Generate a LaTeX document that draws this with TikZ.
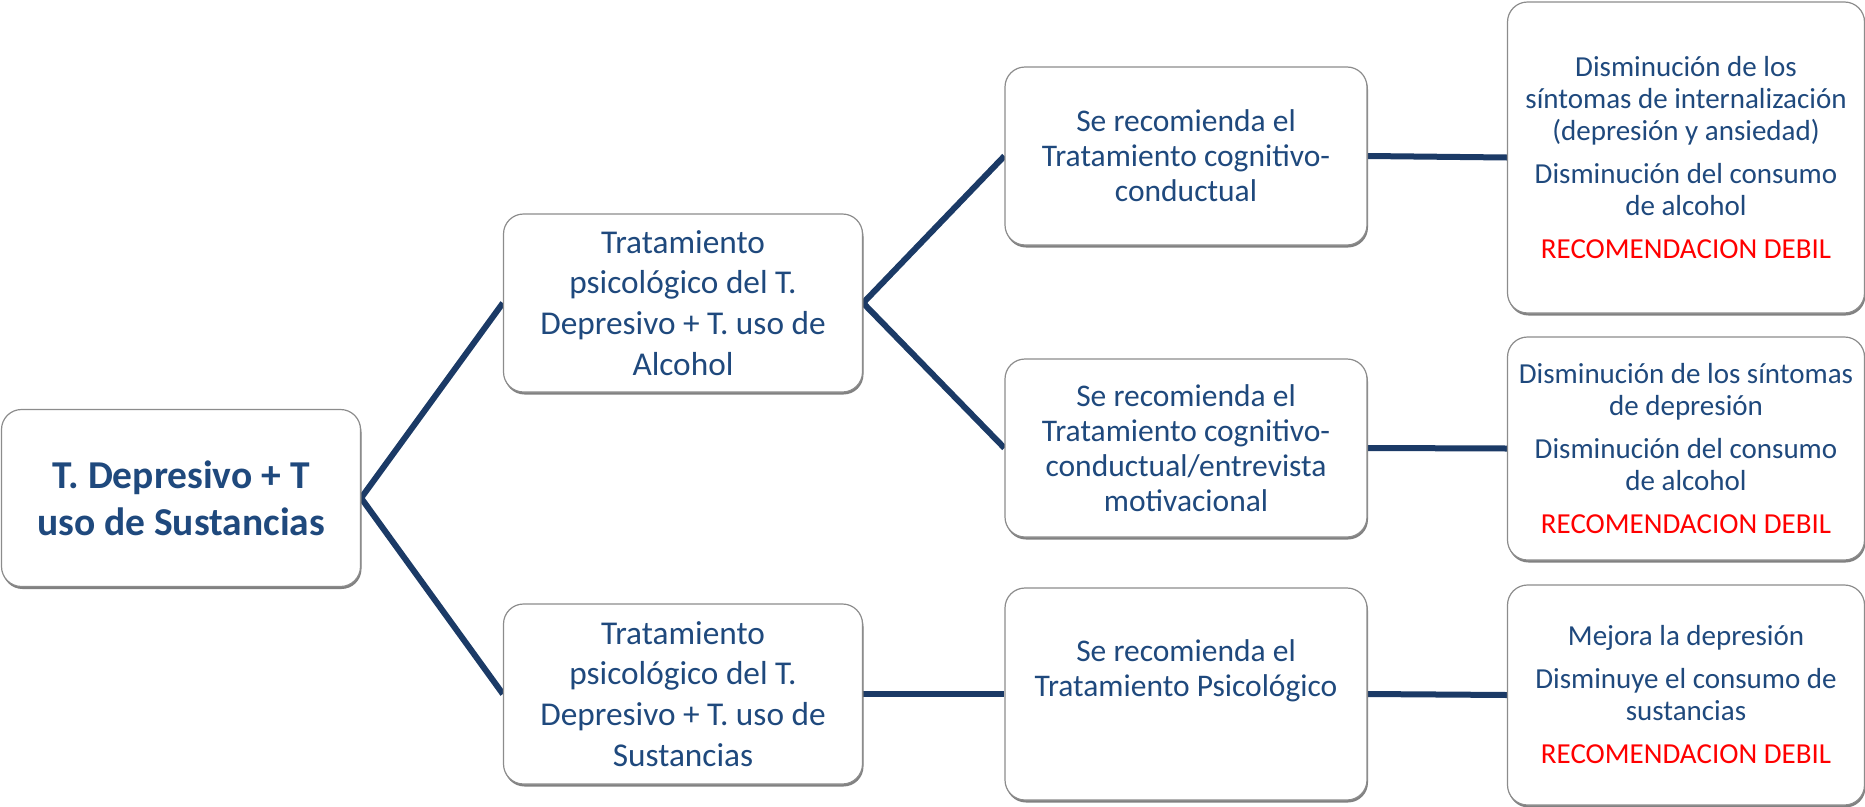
\documentclass[tikz,border=0pt]{standalone}
\usepackage{fontspec}
\setmainfont{Carlito}
\usetikzlibrary{shadows,backgrounds}
\definecolor{txtblue}{HTML}{1F497D}
\definecolor{lnblue}{HTML}{1B3A66}
\definecolor{bordergray}{HTML}{8C8C8C}
\definecolor{recred}{HTML}{FF0000}
\begin{document}
\begin{tikzpicture}[x=1pt,y=-1pt,
  box/.style={draw=bordergray, line width=1.2pt, rounded corners=20pt, fill=white,
    align=center, text=txtblue, inner sep=0pt,
    drop shadow={shadow xshift=1pt, shadow yshift=-2.5pt, fill=black!55, opacity=0.9}},
  txt/.style={align=center, text=txtblue, inner sep=0pt},
  fa/.style={font=\bfseries\fontsize{39.5}{47}\selectfont},
  fb/.style={font=\fontsize{33.3}{40.7}\selectfont},
  fc/.style={font=\fontsize{31.5}{35}\selectfont},
  fd/.style={font=\fontsize{29}{32}\selectfont},
  conn/.style={draw=lnblue, line width=6pt}]
\useasboundingbox (0,0) rectangle (1865,806);

\node[box, fa, minimum width=359pt, minimum height=177pt] (root) at (181,498)
  {T. Depresivo + T\\uso de Sustancias};

\node[box, fb, minimum width=359pt, minimum height=178pt] (l1a) at (683,303)
  {Tratamiento\\psicológico del T.\\Depresivo + T. uso de\\Alcohol};
\node[box, fb, minimum width=359pt, minimum height=180pt] (l1b) at (683,694)
  {Tratamiento\\psicológico del T.\\Depresivo + T. uso de\\Sustancias};

\node[box, fc, minimum width=362pt, minimum height=178pt] (l2a) at (1186,156)
  {Se recomienda el\\Tratamiento cognitivo-\\conductual};
\node[box, fc, minimum width=362pt, minimum height=178pt] (l2b) at (1186,448)
  {Se recomienda el\\Tratamiento cognitivo-\\conductual/entrevista\\motivacional};
\node[box, minimum width=362pt, minimum height=212pt] (l2c) at (1186,694) {};
\node[txt, fc] (l2ct) at (1186,671) {Se recomienda el\\Tratamiento Psicológico};

\node[box, fd, minimum width=357pt, minimum height=311pt] (l3a) at (1686,157.5)
  {Disminución de los\\síntomas de internalización\\(depresión y ansiedad)\\[11pt]Disminución del consumo\\de alcohol\\[11pt]\textcolor{recred}{RECOMENDACION DEBIL}};
\node[box, fd, minimum width=357pt, minimum height=223pt] (l3b) at (1686,448.5)
  {Disminución de los síntomas\\de depresión\\[11pt]Disminución del consumo\\de alcohol\\[11pt]\textcolor{recred}{RECOMENDACION DEBIL}};
\node[box, fd, minimum width=357pt, minimum height=220pt] (l3c) at (1686,695)
  {Mejora la depresión\\[11pt]Disminuye el consumo de\\sustancias\\[11pt]\textcolor{recred}{RECOMENDACION DEBIL}};

\begin{scope}[on background layer]
  \draw[conn] (root.east) -- (l1a.west);
  \draw[conn] (root.east) -- (l1b.west);
  \draw[conn] (l1a.east) -- (l2a.west);
  \draw[conn] (l1a.east) -- (l2b.west);
  \draw[conn] (l1b.east) -- (l2c.west);
  \draw[conn] (l2a.east) -- (l3a.west);
  \draw[conn] (l2b.east) -- (l3b.west);
  \draw[conn] (l2c.east) -- (l3c.west);
\end{scope}
\end{tikzpicture}
\end{document}
